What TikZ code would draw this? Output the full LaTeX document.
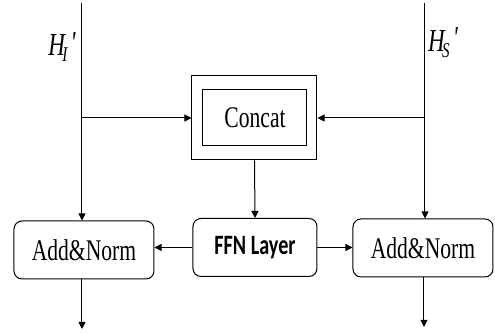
\documentclass[tikz,border=0pt]{standalone}
\usepackage{fontspec}
\setmainfont[FakeStretch=0.72]{Liberation Serif}
\newfontfamily\ffnfont[FakeStretch=0.72]{Carlito}
\usetikzlibrary{arrows.meta}

\tikzset{
  linea/.style={line width=0.5pt},
  flecha/.style={line width=0.5pt, -{Triangle[length=3.6pt,width=3.6pt]}},
  bloque/.style={draw, linea, rounded corners=4pt, inner sep=0pt,
    minimum width=70pt, minimum height=29pt, font=\fontsize{15}{18}\selectfont},
}
\newcommand{\hprima}[1]{{\fontsize{16}{19}\selectfont\itshape H\kern-0.08em\raisebox{-0.45ex}{\fontsize{10.5}{12}\selectfont #1}\kern0.1em\raisebox{0.15ex}{\textquotesingle}}}

\begin{document}
\begin{tikzpicture}[x=0.5pt, y=-0.5pt]
  \useasboundingbox (0,0) rectangle (495,335);
  %entradas y salidas
  \coordinate (li) at (82,3);
  \coordinate (ri) at (425,3);
  \coordinate (lc) at (82,118);
  \coordinate (rc) at (425,118);
  \coordinate (lo) at (82,329);
  \coordinate (ro) at (424,327);
  %bloques
  \node[bloque] (lnorm) at (84,250) {Add\&Norm};
  \node[bloque] (rnorm) at (423,248) {Add\&Norm};
  \node[bloque, minimum width=62pt, font=\ffnfont\bfseries\fontsize{14}{17}\selectfont] (ffn) at (255,247.5) {FFN Layer};
  %concat
  \node[draw, linea, minimum width=62.5pt, minimum height=42pt] (cbox) at (254.5,118) {};
  \node[draw, linea, minimum width=52pt, minimum height=28pt, font=\fontsize{15}{18}\selectfont] (concat) at (255,118) {Concat};
  %etiquetas
  \node (hi) at (63,47) {\hprima{I}};
  \node (hs) at (444,43) {\hprima{S}};
  %conexiones
  \draw[flecha] (li) -- (li |- lnorm.north);
  \draw[flecha] (ri) -- (ri |- rnorm.north);
  \draw[flecha] (lc) -- (cbox.west);
  \draw[flecha] (rc) -- (cbox.east);
  \draw[flecha] (cbox.south) -- (ffn.north);
  \draw[flecha] (ffn.west) -- (ffn.west -| lnorm.east);
  \draw[flecha] (ffn.east) -- (ffn.east -| rnorm.west);
  \draw[flecha] (lnorm.south -| lo) -- (lo);
  \draw[flecha] (rnorm.south -| ro) -- (ro);
\end{tikzpicture}
\end{document}
